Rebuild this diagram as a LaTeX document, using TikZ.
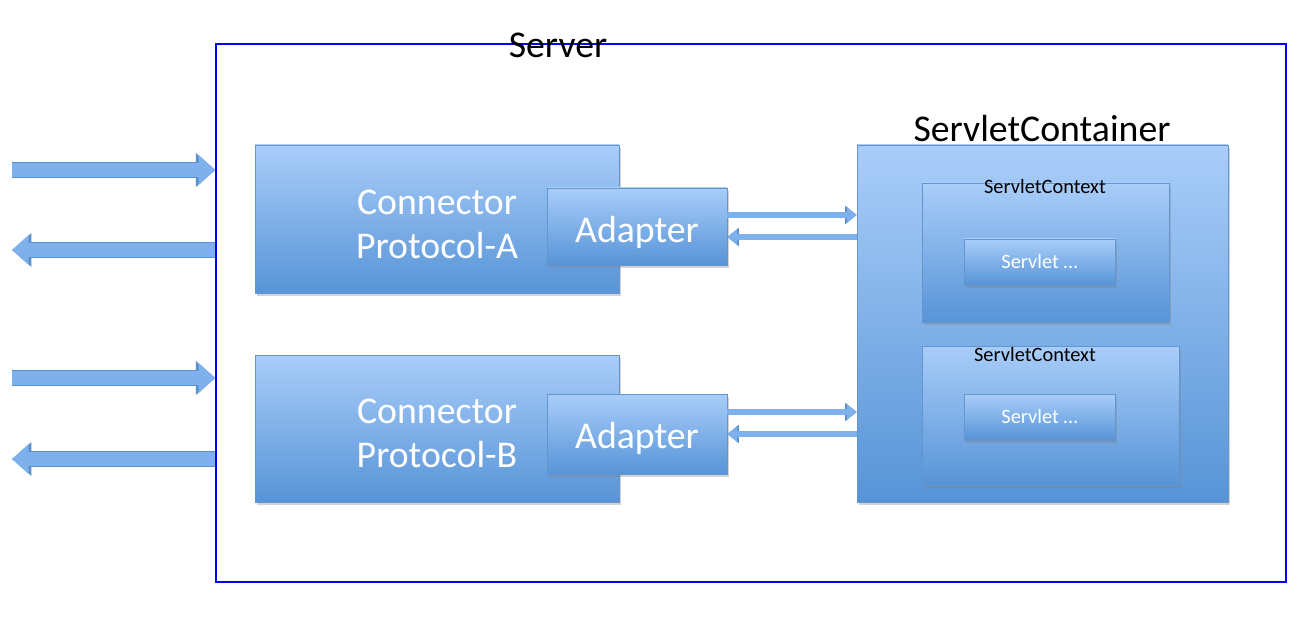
\documentclass[tikz,border=0pt]{standalone}
\usepackage{fontspec}
\setmainfont{Carlito}
\usetikzlibrary{arrows.meta,shadows,calc}
\definecolor{boxtop}{HTML}{A9CDF9}
\definecolor{boxbot}{HTML}{5794D7}
\definecolor{boxedge}{HTML}{6495CC}
\definecolor{arrowfill}{HTML}{7EB1EC}
\definecolor{arrowedge}{HTML}{5A8FCB}
\begin{document}
\begin{tikzpicture}[x=0.02cm,y=-0.02cm,
  box/.style={shape=rectangle,draw=boxedge,top color=boxtop,bottom color=boxbot,inner sep=0pt,
    text=white,drop shadow={opacity=0.35,shadow xshift=1pt,shadow yshift=-1.5pt}},
  bigtext/.style={text=white,font=\fontsize{21.5}{25}\selectfont,align=center},
  smallbox/.style={box,font=\fontsize{11.6}{14}\selectfont},
  fat/.style={draw=arrowfill,line width=8pt,-{Triangle[length=9.5pt,width=16.5pt]},
    preaction={draw=arrowedge,line width=9pt,-{Triangle[length=11pt,width=18.5pt]}}},
  thin/.style={draw=arrowfill,line width=3pt,-{Triangle[length=5.5pt,width=8.5pt]},
    preaction={draw=arrowedge,line width=3.8pt,-{Triangle[length=6.5pt,width=10pt]}}}]
\useasboundingbox (0,0) rectangle (1308,618);

\node[draw=blue,line width=0.8pt,minimum width=1070*0.02cm,minimum height=538*0.02cm] (srv) at (751,313) {};
\node[font=\fontsize{21.5}{25}\selectfont] (srvL) at (558,45) {Server};

\node[box,minimum width=364*0.02cm,minimum height=148*0.02cm,
  label={[bigtext,yshift=-3pt]center:Connector\\Protocol-A}] (conA) at (437,219) {};
\node[box,minimum width=180*0.02cm,minimum height=77*0.02cm,
  label={[bigtext,yshift=-3.5pt]center:Adapter}] (adA) at (637,226.5) {};
\node[box,minimum width=364*0.02cm,minimum height=147*0.02cm,
  label={[bigtext,yshift=-3pt]center:Connector\\Protocol-B}] (conB) at (437,428.5) {};
\node[box,minimum width=180*0.02cm,minimum height=80*0.02cm,
  label={[bigtext,yshift=-2.5pt]center:Adapter}] (adB) at (637,434) {};

\node[box,minimum width=371*0.02cm,minimum height=357*0.02cm] (cont) at (1042.5,323.5) {};
\node[font=\fontsize{21.5}{25}\selectfont] (contL) at (1042,129) {ServletContainer};

\node[box,minimum width=247*0.02cm,minimum height=139*0.02cm] (ctxA) at (1045.5,252.5) {};
\node[font=\fontsize{11.6}{14}\selectfont] (ctxAL) at (1045,186) {ServletContext};
\node[smallbox,minimum width=151*0.02cm,minimum height=46*0.02cm] (svA) at (1039.5,262) {Servlet \dots};

\node[box,minimum width=257*0.02cm,minimum height=139*0.02cm] (ctxB) at (1050.5,415.5) {};
\node[font=\fontsize{11.6}{14}\selectfont] (ctxBL) at (1035,354) {ServletContext};
\node[smallbox,minimum width=151*0.02cm,minimum height=46*0.02cm] (svB) at (1039.5,417) {Servlet \dots};

% outside requests and responses
\coordinate (inA) at (12,170);
\coordinate (outA) at (12,250);
\coordinate (inB) at (12,378);
\coordinate (outB) at (12,459);
\draw[fat] (inA) -- (inA -| srv.west);
\draw[fat] (outA -| srv.west) -- (outA);
\draw[fat] (inB) -- (inB -| srv.west);
\draw[fat] (outB -| srv.west) -- (outB);

% adapter <-> container
\coordinate (a1) at ($(adA.east)+(0,-11.5)$);
\coordinate (a2) at ($(adA.east)+(0,10.5)$);
\coordinate (b1) at ($(adB.east)+(0,-22)$);
\coordinate (b2) at ($(adB.east)+(0,0)$);
\draw[thin] (a1) -- (a1 -| cont.west);
\draw[thin] (a2 -| cont.west) -- (a2);
\draw[thin] (b1) -- (b1 -| cont.west);
\draw[thin] (b2 -| cont.west) -- (b2);
\end{tikzpicture}
\end{document}
